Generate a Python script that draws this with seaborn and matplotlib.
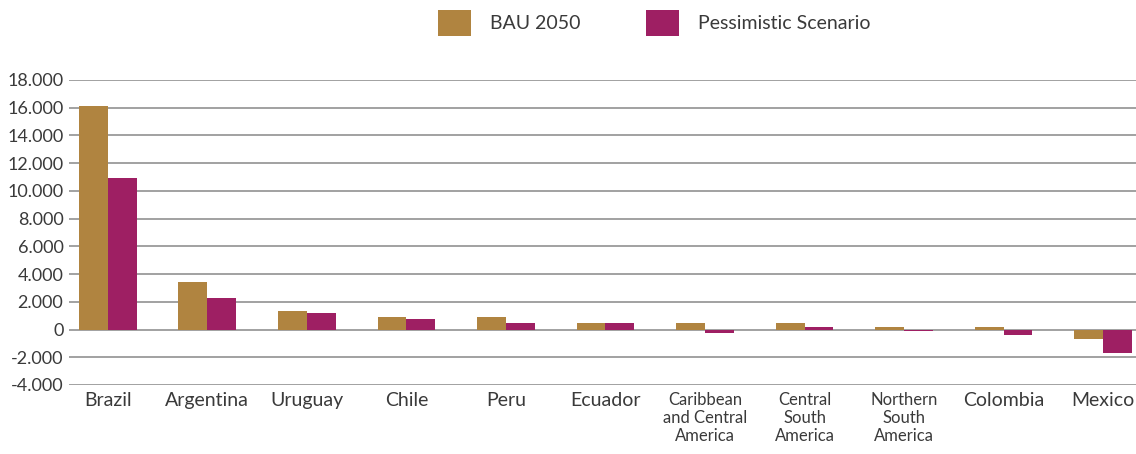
import pandas as pd
import numpy as np
import matplotlib.pyplot as plt
import matplotlib.ticker as mticker
import seaborn as sns

regions = ['Brazil', 'Argentina', 'Uruguay', 'Chile', 'Peru', 'Ecuador',
           'Caribbean\nand Central\nAmerica', 'Central\nSouth\nAmerica',
           'Northern\nSouth\nAmerica', 'Colombia', 'Mexico']
bau_2050 = [16100, 3400, 1350, 900, 900, 450, 450, 450, 150, 150, -700]
pessimistic = [10900, 2250, 1200, 750, 450, 450, -250, 150, -100, -400, -1700]
series_names = ['BAU 2050', 'Pessimistic Scenario']
y_ticks = list(range(-4000, 18001, 2000))

df = pd.DataFrame({
    'region': regions * 2,
    'value': bau_2050 + pessimistic,
    'scenario': [series_names[0]] * len(regions) + [series_names[1]] * len(regions),
})

sns.set_style('white')
plt.rcParams['font.family'] = ['Lato', 'DejaVu Sans']
text_color = '#3a3a3a'

fig = plt.figure(figsize=(11.36, 4.54), dpi=100)
ax = fig.add_axes([0.0607, 0.152, 0.9393, 0.672])

sns.barplot(data=df, x='region', y='value', hue='scenario', order=regions,
            hue_order=series_names, palette=['#B08440', '#9E1F63'], saturation=1,
            width=0.58, linewidth=0, ax=ax, legend=True, zorder=3)

ax.set_xlim(-0.39, 10.33)
ax.set_ylim(-4000, 18000)
ax.set_yticks(y_ticks)
ax.yaxis.set_major_formatter(mticker.FuncFormatter(lambda v, p: f'{int(v):,}'.replace(',', '.')))
ax.yaxis.grid(True, color='#9a9a9a', linewidth=1.3, zorder=0)
ax.set_axisbelow(True)
for s in ax.spines.values():
    s.set_visible(False)
ax.set_xlabel('')
ax.set_ylabel('')
ax.tick_params(axis='both', length=0, colors=text_color)
ax.tick_params(axis='y', pad=4, labelsize=13)
ax.tick_params(axis='x', pad=5, labelsize=14)
for lab in ax.get_xticklabels():
    if '\n' in lab.get_text():
        lab.set_fontsize(12)
        lab.set_linespacing(1.15)

handles, labels = ax.get_legend_handles_labels()
ax.legend_.remove()
leg = fig.legend(handles, labels, loc='center', bbox_to_anchor=(0.576, 0.949), ncol=2,
                 frameon=False, fontsize=14, handlelength=1.7, handleheight=1.7,
                 handletextpad=0.95, columnspacing=3.4)
for t in leg.get_texts():
    t.set_color(text_color)

plt.savefig('out.png', dpi=100)
